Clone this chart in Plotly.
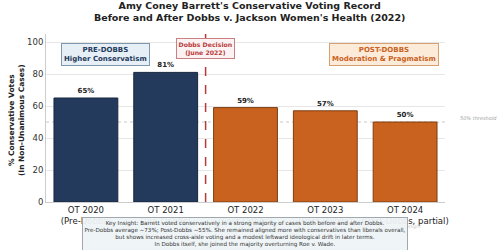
import plotly.graph_objects as go

terms = ["OT 2020", "OT 2021", "OT 2022", "OT 2023", "OT 2024"]
subtitles = ["(Pre-Dobbs)", "(Pre-Dobbs)", "(Post-Dobbs)", "(Post-Dobbs)", "(Post-Dobbs, partial)"]
cons_pct = [65, 81, 59, 57, 50]
period = ["pre", "pre", "post", "post", "post"]

NAVY = "#243a5c"
NAVY_EDGE = "#17263d"
ORANGE = "#c9621f"
ORANGE_EDGE = "#7d3d12"
RED = "#b83a3a"

tick_text = [f"{t}<br>{s}" for t, s in zip(terms, subtitles)]
colors = [NAVY if p == "pre" else ORANGE for p in period]
edges = [NAVY_EDGE if p == "pre" else ORANGE_EDGE for p in period]
xs = list(range(len(terms)))

FONT = "DejaVu Sans"

fig = go.Figure()
fig.add_trace(go.Bar(
    x=xs, y=cons_pct, width=0.8,
    marker=dict(color=colors, line=dict(color=edges, width=1)),
    text=[f"<b>{v}%</b>" for v in cons_pct], textposition="outside",
    textfont=dict(family=FONT, size=7, color="#222"),
    cliponaxis=False, showlegend=False,
))

# 50% threshold
fig.add_shape(type="line", xref="x", yref="y", x0=-0.5, x1=4.5, y0=50, y1=50,
              line=dict(color="#c8c8c8", width=1, dash="dot"), layer="below")
# Dobbs line
fig.add_shape(type="line", xref="x", yref="paper", x0=1.5, x1=1.5, y0=0, y1=1,
              line=dict(color=RED, width=1.5, dash="dash"))

annos = [
    dict(x=0.511, y=1.131, xref="paper", yref="paper", xanchor="center", yanchor="middle",
         text="<b>Amy Coney Barrett's Conservative Voting Record<br>Before and After Dobbs v. Jackson Women's Health (2022)</b>",
         font=dict(family=FONT, size=9.5, color="#222"), showarrow=False),
    dict(x=0.246, y=92.2, xref="x", yref="y",
         text="<b>PRE-DOBBS<br>Higher Conservatism</b>",
         font=dict(family=FONT, size=7, color=NAVY), bgcolor="#e6eff6",
         bordercolor="#7f98ad", borderwidth=1, borderpad=2, showarrow=False),
    dict(x=3.736, y=92.2, xref="x", yref="y",
         text="<b>POST-DOBBS<br>Moderation &amp; Pragmatism</b>",
         font=dict(family=FONT, size=7, color=ORANGE), bgcolor="#fcebd9",
         bordercolor="#d9a06f", borderwidth=1, borderpad=2, showarrow=False),
    dict(x=1.5, y=96.25, xref="x", yref="y",
         text="<b>Dobbs Decision<br>(June 2022)</b>",
         font=dict(family=FONT, size=6.2, color=RED), bgcolor="#fbf3f3",
         bordercolor="#c98080", borderwidth=1, borderpad=1.5, showarrow=False),
    dict(x=1.033, y=52.5, xref="paper", yref="y", xanchor="left",
         text="<i>50% threshold</i>",
         font=dict(family=FONT, size=5, color="#a0a0a0"), showarrow=False),
    dict(x=-0.075, y=0.488, xref="paper", yref="paper", xanchor="center", yanchor="middle",
         textangle=-90,
         text="<b>% Conservative Votes<br>(In Non-Unanimous Cases)</b>",
         font=dict(family=FONT, size=7.5, color="#222"), showarrow=False),
    dict(x=0.945, y=-0.173, xref="paper", yref="paper",
         text="<i>@ScotusSpotlight</i>",
         font=dict(family=FONT, size=4.5, color="#cccccc"), showarrow=False),
    dict(x=0.4975, y=-0.19, xref="paper", yref="paper", yanchor="middle",
         text=("Key Insight: Barrett voted conservatively in a strong majority of cases both before and after Dobbs.<br>"
               "Pre-Dobbs average ~73%; Post-Dobbs ~55%. She remained aligned more with conservatives than liberals overall,<br>"
               "but shows increased cross-aisle voting and a modest leftward ideological drift in later terms.<br>"
               "In Dobbs itself, she joined the majority overturning Roe v. Wade."),
         font=dict(family=FONT, size=5.6, color="#333"), bgcolor="rgba(238,243,245,0.95)",
         bordercolor="#a0a8ad", borderwidth=1, borderpad=1.5, showarrow=False),
]

fig.update_layout(
    width=500, height=250,
    margin=dict(l=46, r=55, t=34, b=48),
    paper_bgcolor="white", plot_bgcolor="white",
    xaxis=dict(range=[-0.5, 4.5], tickmode="array", tickvals=xs, ticktext=tick_text,
               tickfont=dict(family=FONT, size=8.5, color="#222"),
               showline=True, linecolor="#cccccc", showgrid=False, ticks="", zeroline=False),
    yaxis=dict(range=[0, 105], tickvals=[0, 20, 40, 60, 80, 100],
               tickfont=dict(family=FONT, size=8.5, color="#333"),
               showline=True, linecolor="#cccccc", gridcolor="#e6e6e6", zeroline=False,
               ticks="", ticklen=0),
    annotations=annos,
    bargap=0.2,
)

fig.write_html("out.html")
